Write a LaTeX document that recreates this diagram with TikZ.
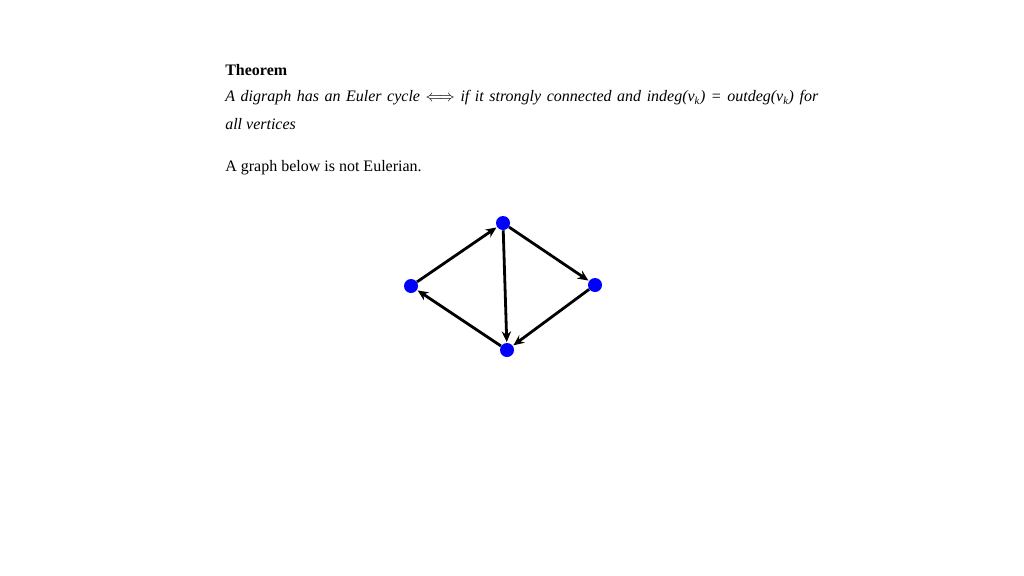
\documentclass[tikz,border=0pt]{standalone}
\usepackage{fontspec}
\setmainfont{Liberation Serif}
\usetikzlibrary{arrows.meta}
\begin{document}
\begin{tikzpicture}[x=0.75pt,y=-0.75pt,
  txt/.style={anchor=base west, inner sep=0pt, font=\fontsize{12}{14}\selectfont},
  vert/.style={circle, fill={rgb,255:red,0;green,0;blue,255}, minimum size=10.5pt, inner sep=0pt},
  arc/.style={-{Stealth[length=8pt,width=7pt]}, line width=2.1pt, shorten >=0.5pt}]
\useasboundingbox (0,0) rectangle (1024,575);
\fill[white] (0,0) rectangle (1024,575);
\node[txt] (title) at (225,75) {\textbf{Theorem}};
\node[txt] (l1) at (225,101.7) {\makebox[444.75pt][s]{\itshape A digraph has an Euler cycle $\Longleftrightarrow$ if it strongly connected and indeg(v\textsubscript{\itshape k}) = outdeg(v\textsubscript{\itshape k}) for}};
\node[txt] (l2) at (225,129) {\itshape all vertices};
\node[txt] (l3) at (225,171.7) {A graph below is not Eulerian.};
\node[vert] (t) at (503,223) {};
\node[vert] (l) at (411,286) {};
\node[vert] (r) at (595,285) {};
\node[vert] (b) at (507,350) {};
\draw[arc] (l) -- (t);
\draw[arc] (t) -- (r);
\draw[arc] (t) -- (b);
\draw[arc] (r) -- (b);
\draw[arc] (b) -- (l);
\end{tikzpicture}
\end{document}
